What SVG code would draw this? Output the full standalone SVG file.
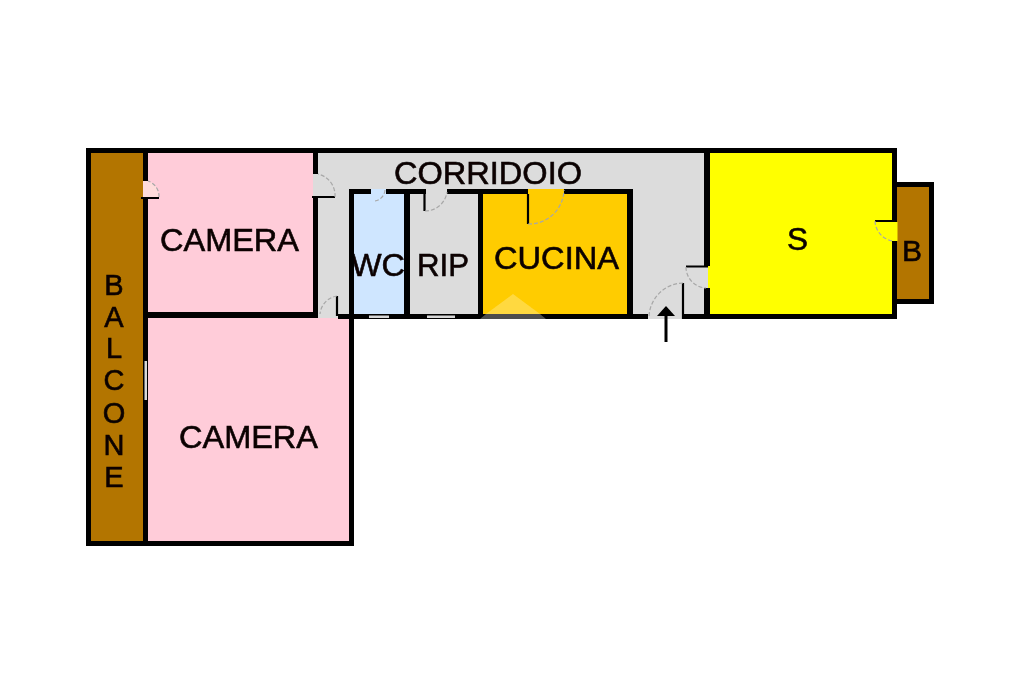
<svg xmlns="http://www.w3.org/2000/svg" width="1024" height="683" viewBox="0 0 1024 683">
<defs><filter id="soft" x="0" y="0" width="100%" height="100%"><feGaussianBlur stdDeviation="0.45"/></filter></defs>
<style>
.w{fill:#000}
.t{font-family:"Liberation Sans",Arial,sans-serif;fill:#0a0505;stroke:#0a0505;stroke-width:.6}
.v{font-size:29px;text-anchor:middle}
.a{fill:none;stroke:#a8a8a8;stroke-width:1.2;stroke-dasharray:4 2}
.l{stroke:#000;stroke-width:2.2;fill:none}
.win{fill:#d8d8d8}
</style>
<rect width="1024" height="683" fill="#fff"/>
<g filter="url(#soft)">
<g id="balcone"><rect x="91" y="153" width="53" height="389" fill="#b37400"/>
<text class="t v" x="114" y="295">B</text>
<text class="t v" x="114" y="327">A</text>
<text class="t v" x="114" y="358">L</text>
<text class="t v" x="114" y="390">C</text>
<text class="t v" x="114" y="423">O</text>
<text class="t v" x="114" y="455">N</text>
<text class="t v" x="114" y="487">E</text></g>
<g id="camera1"><rect x="146" y="153" width="169" height="161" fill="#ffccd9"/>
<text class="t" x="160" y="251" font-size="32" textLength="139" lengthAdjust="spacingAndGlyphs">CAMERA</text></g>
<g id="camera2"><rect x="146" y="316" width="205" height="227" fill="#ffccd9"/>
<text class="t" x="179" y="448" font-size="32" textLength="139" lengthAdjust="spacingAndGlyphs">CAMERA</text></g>
<g id="corridoio"><rect x="316" y="153" width="392" height="164" fill="#dcdcdc"/>
<rect x="313" y="174" width="6" height="23" fill="#dcdcdc"/>
<rect x="648" y="314" width="36" height="5" fill="#dcdcdc"/>
<rect x="318" y="314" width="20" height="4" fill="#dcdcdc"/>
<text class="t" x="394" y="184" font-size="32" textLength="188" lengthAdjust="spacingAndGlyphs">CORRIDOIO</text></g>
<g id="wc"><rect x="351" y="189" width="56" height="127" fill="#cfe6ff"/>
<text class="t" x="351" y="276" font-size="32" textLength="54" lengthAdjust="spacingAndGlyphs">WC</text></g>
<g id="rip"><rect x="408" y="189" width="72" height="127" fill="#dcdcdc"/>
<text class="t" x="417" y="276" font-size="32" textLength="52" lengthAdjust="spacingAndGlyphs">RIP</text></g>
<g id="cucina"><rect x="481" y="189" width="148" height="127" fill="#ffcc00"/>
<text class="t" x="494" y="269" font-size="32" textLength="125" lengthAdjust="spacingAndGlyphs">CUCINA</text></g>
<g id="s"><rect x="708" y="153" width="186" height="164" fill="#ffff00"/>
<rect x="892" y="222" width="5.500" height="19" fill="#ffff00"/>
<text class="t" x="787" y="250" font-size="32" textLength="21" lengthAdjust="spacingAndGlyphs">S</text></g>
<g id="b"><rect x="895" y="185" width="37" height="117" fill="#b37400"/>
<rect x="892" y="222" width="5.500" height="19" fill="#ffff00"/>
<text class="t" x="902" y="261" font-size="30" textLength="20" lengthAdjust="spacingAndGlyphs">B</text></g>
<path d="M143 181H148A16 16 0 0 1 159 197H143Z" fill="#ffdcdc"/>
<g id="walls">
<rect class="w" x="86" y="148" width="811" height="5"/>
<rect class="w" x="86" y="148" width="5" height="398"/>
<rect class="w" x="86" y="541" width="268" height="5"/>
<rect class="w" x="143" y="148" width="5" height="33"/>
<rect class="w" x="143" y="197" width="5" height="349"/>
<rect class="w" x="143" y="312" width="175" height="6"/>
<rect class="w" x="313" y="148" width="5" height="26"/>
<rect class="w" x="313" y="197" width="5" height="121"/>
<rect class="w" x="349" y="189" width="5" height="357"/>
<rect class="w" x="338" y="314" width="310" height="5"/>
<rect class="w" x="684" y="314" width="213" height="5"/>
<rect class="w" x="349" y="189" width="22" height="5"/>
<rect class="w" x="386" y="189" width="40" height="5"/>
<rect class="w" x="447" y="189" width="81" height="5"/>
<rect class="w" x="564" y="189" width="69" height="5"/>
<rect class="w" x="404" y="189" width="6" height="130"/>
<rect class="w" x="478" y="189" width="5" height="130"/>
<rect class="w" x="627" y="189" width="6" height="130"/>
<rect class="w" x="704" y="148" width="6" height="118"/>
<rect class="w" x="704" y="288" width="6" height="31"/>
<rect class="w" x="892" y="148" width="5" height="74"/>
<rect class="w" x="892" y="241" width="5" height="78"/>
<rect class="w" x="892" y="182" width="42" height="5"/>
<rect class="w" x="929" y="182" width="5" height="122"/>
<rect class="w" x="892" y="299" width="42" height="5"/>
</g>
<g id="connectors">
<path class="l" d="M141 198H159M312 197H335M337 296V316M424.500 194V211M528 194V224M686 266.500H708M683 283V319M875 221H897"/>
<path class="a" d="M159 197A16 16 0 0 0 148 181M335 197A22 22 0 0 0 318 174M337 296A20 20 0 0 0 320 314M385 190A12 12 0 0 1 375 201M425 211A22 22 0 0 0 447 192M528 224A35 35 0 0 0 564 190M686 267A21 21 0 0 0 706 288M683 283A35 35 0 0 0 649 317M875 221A21 21 0 0 0 893 241"/>
<rect class="win" x="369" y="315.500" width="20" height="2.500"/>
<rect class="win" x="427" y="315.500" width="28" height="2.500"/>
<rect x="144.500" y="361" width="2.500" height="39" fill="#d8d8d8"/>
<path d="M666 342V314" stroke="#000" stroke-width="3"/>
<path d="M666 306L675 316H657Z" fill="#000"/>
<path d="M513 294L486 314H540Z" fill="#fff" opacity=".25"/>
<path d="M486 314L480 319H546L540 314Z" fill="#fff" opacity=".3"/>
</g>
</g>
</svg>
